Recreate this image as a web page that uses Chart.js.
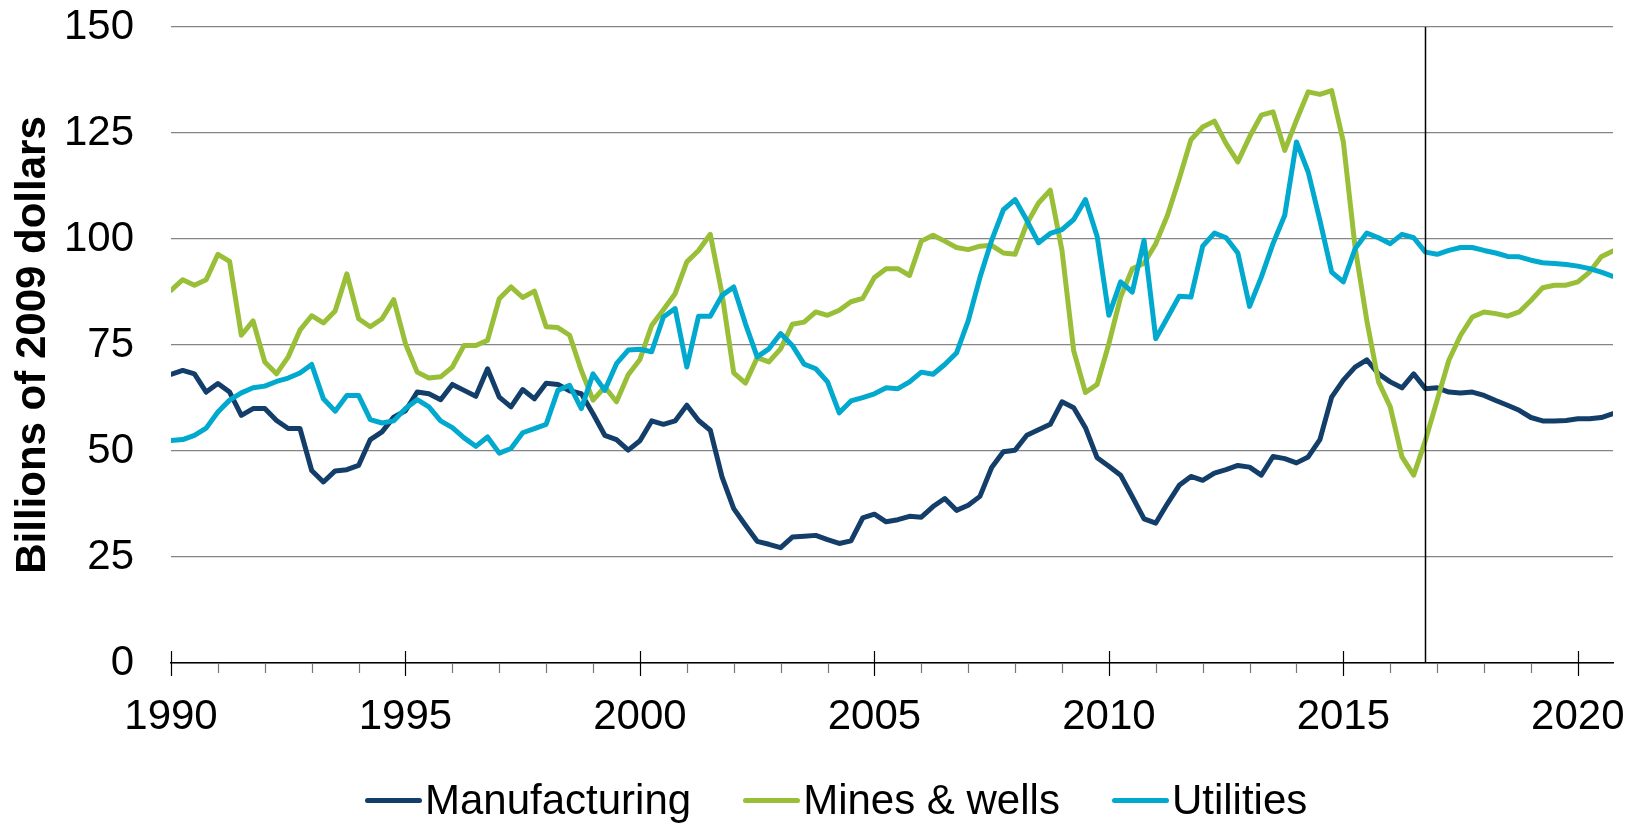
<!DOCTYPE html>
<html>
<head>
<meta charset="utf-8">
<title>Investment by sector</title>
<script src="https://cdn.jsdelivr.net/npm/chart.js@4.4.0/dist/chart.umd.min.js"></script>
<style>
  body { margin: 0; background: #fff; font-family: "Liberation Sans", Arial, sans-serif; }
  #wrap { position: relative; width: 1634px; height: 826px; }
  #legend { position: absolute; left: 365px; top: 776px; display: flex; align-items: center;
            font-size: 42px; line-height: 48px; color: #000; white-space: nowrap; }
  #legend .item { display: flex; align-items: center; margin-right: 52px; }
  #legend .swatch { width: 57px; height: 5px; border-radius: 2.5px; margin-right: 3px; }
</style>
</head>
<body>
<div id="wrap">
  <canvas id="chart" width="1634" height="826"></canvas>
  <div id="legend"></div>
</div>
<script>
// quarterly series, 1990Q1 .. 2020Q4, billions of 2009 dollars
const startYear = 1990;
const forecastStart = 2016.75;
const yTicks = [0, 25, 50, 75, 100, 125, 150];

const manufacturing = [
  68.1, 69.0, 68.2, 63.9, 65.9, 63.9, 58.4, 60.0, 60.0, 57.2,
  55.3, 55.3, 45.4, 42.7, 45.3, 45.6, 46.6, 52.7, 54.5, 58.0,
  59.5, 63.9, 63.5, 62.1, 65.7, 64.3, 62.9, 69.4, 62.7, 60.4,
  64.5, 62.3, 66.0, 65.7, 64.2, 63.5, 58.8, 53.7, 52.7, 50.2,
  52.4, 57.1, 56.3, 57.1, 60.8, 57.2, 54.9, 43.9, 36.4, 32.5,
  28.7, 28.0, 27.2, 29.7, 29.9, 30.1, 29.1, 28.2, 28.8, 34.2,
  35.1, 33.3, 33.8, 34.6, 34.4, 36.9, 38.8, 36.0, 37.2, 39.3,
  46.1, 49.8, 50.2, 53.7, 55.0, 56.3, 61.6, 60.2, 55.5, 48.4,
  46.4, 44.3, 39.2, 34.0, 33.0, 37.6, 41.9, 44.0, 43.1, 44.8,
  45.6, 46.6, 46.2, 44.3, 48.7, 48.2, 47.2, 48.6, 52.7, 62.7,
  66.7, 69.8, 71.5, 68.2, 66.3, 64.9, 68.2, 64.7, 64.9, 63.9,
  63.7, 63.9, 63.1, 61.9, 60.8, 59.6, 57.9, 57.1, 57.1, 57.2,
  57.6, 57.6, 57.9, 58.8
];
const minesWells = [
  87.9, 90.4, 89.1, 90.4, 96.4, 94.7, 77.3, 80.7, 71.0, 68.2,
  72.2, 78.5, 81.9, 80.2, 83.0, 91.8, 81.2, 79.3, 81.2, 85.7,
  75.3, 68.6, 67.2, 67.5, 69.8, 74.9, 74.9, 76.1, 85.9, 88.7,
  86.2, 87.7, 79.3, 79.1, 77.3, 69.0, 62.0, 65.1, 61.6, 68.0,
  71.6, 79.6, 83.3, 87.1, 94.6, 97.3, 101.1, 87.1, 68.4, 66.0,
  72.0, 71.0, 74.1, 79.9, 80.4, 82.8, 82.0, 83.2, 85.2, 86.0,
  90.9, 93.0, 93.0, 91.4, 99.5, 100.9, 99.5, 98.0, 97.5, 98.3,
  98.5, 96.7, 96.4, 103.6, 108.5, 111.5, 97.3, 73.6, 63.8, 65.7,
  75.3, 86.3, 93.0, 94.3, 98.9, 105.6, 114.2, 123.4, 126.4, 127.8,
  122.5, 118.2, 124.1, 129.2, 130.0, 120.9, 128.0, 134.7, 134.1, 135.0,
  122.9, 98.1, 80.8, 66.3, 60.4, 48.6, 44.3, 52.5, 62.0, 71.4,
  77.3, 81.6, 82.8, 82.4, 81.8, 82.8, 85.5, 88.5, 89.1, 89.1,
  89.9, 92.2, 95.8, 97.2
];
const utilities = [
  52.5, 52.7, 53.7, 55.4, 59.2, 62.0, 63.7, 64.9, 65.3, 66.4,
  67.2, 68.4, 70.4, 62.3, 59.4, 63.1, 63.1, 57.4, 56.6, 57.1,
  60.0, 62.1, 60.4, 57.1, 55.5, 53.1, 51.1, 53.3, 49.5, 50.6,
  54.3, 55.3, 56.3, 64.3, 65.5, 60.0, 68.2, 64.3, 70.6, 73.8,
  74.0, 73.4, 81.6, 83.6, 69.8, 81.8, 81.8, 86.7, 88.7, 80.0,
  72.2, 74.1, 77.7, 74.9, 70.5, 69.4, 66.3, 59.0, 61.8, 62.6,
  63.5, 64.9, 64.7, 66.3, 68.6, 68.1, 70.4, 73.1, 80.7, 90.9,
  99.7, 106.9, 109.3, 104.4, 99.1, 101.3, 102.2, 104.6, 109.3, 100.6,
  82.0, 89.9, 87.5, 99.7, 76.5, 81.5, 86.5, 86.3, 98.3, 101.4,
  100.3, 96.7, 84.1, 91.0, 98.9, 105.6, 122.9, 115.8, 104.4, 92.2,
  89.9, 97.7, 101.4, 100.3, 98.9, 101.1, 100.3, 96.9, 96.4, 97.3,
  98.0, 98.0, 97.3, 96.7, 95.9, 95.8, 95.0, 94.4, 94.2, 94.0,
  93.6, 93.0, 92.2, 91.2
];

const seriesNames = ['Manufacturing', 'Mines & wells', 'Utilities'];
const seriesColors = ['#133e69', '#99be37', '#00a9cd'];

const endYear = startYear + (manufacturing.length - 1) / 4;
const toPoints = arr => arr.map((v, i) => ({ x: startYear + i / 4, y: v }));

const FONT = '"Liberation Sans", Arial, sans-serif';

// year tick marks below the axis and the forecast divider
const axisMarks = {
  id: 'axisMarks',
  afterDraw(chart) {
    const { ctx, chartArea, scales: { x } } = chart;
    const bottom = chartArea.bottom;
    ctx.save();
    for (let yr = startYear; yr <= Math.floor(endYear); yr++) {
      const px = Math.round(x.getPixelForValue(yr)) + 0.5;
      const major = yr % 5 === 0;
      ctx.strokeStyle = major ? '#000' : '#777';
      ctx.lineWidth = 1.2;
      ctx.beginPath();
      ctx.moveTo(px, bottom - (major ? 12 : 0));
      ctx.lineTo(px, bottom + (major ? 13 : 10));
      ctx.stroke();
    }
    const fx = Math.round(x.getPixelForValue(forecastStart)) + 0.5;
    ctx.strokeStyle = '#000';
    ctx.lineWidth = 1.5;
    ctx.beginPath();
    ctx.moveTo(fx, chartArea.top);
    ctx.lineTo(fx, bottom);
    ctx.stroke();
    ctx.restore();
  }
};

const datasets = [manufacturing, minesWells, utilities].map((arr, k) => ({
  label: seriesNames[k],
  data: toPoints(arr),
  borderColor: seriesColors[k],
  backgroundColor: seriesColors[k],
  borderWidth: 5,
  borderJoinStyle: 'round',
  borderCapStyle: 'round',
  pointRadius: 0,
  tension: 0,
  order: 2 - k
}));

const chart = new Chart(document.getElementById('chart'), {
  type: 'line',
  data: { datasets: datasets },
  options: {
    responsive: false,
    animation: false,
    events: [],
    layout: { padding: { top: 27, right: 21, bottom: 0, left: 0 } },
    plugins: { legend: { display: false }, tooltip: { enabled: false } },
    scales: {
      x: {
        type: 'linear',
        min: startYear,
        max: endYear,
        grid: { display: false },
        border: { display: true, color: '#000', width: 1.5 },
        ticks: {
          stepSize: 5,
          includeBounds: false,
          maxRotation: 0,
          autoSkip: false,
          padding: 21,
          color: '#000',
          font: { family: FONT, size: 42 },
          callback: v => String(v)
        },
        afterFit(s) {
          s.height = 826 - 663;
          s.paddingLeft = 0;
          s.paddingRight = 0;
        }
      },
      y: {
        min: yTicks[0],
        max: yTicks[yTicks.length - 1],
        afterBuildTicks(s) { s.ticks = yTicks.map(v => ({ value: v })); },
        grid: { color: '#858585', lineWidth: 1.3, drawTicks: false },
        border: { display: false },
        ticks: {
          padding: 37,
          color: '#000',
          font: { family: FONT, size: 42 }
        },
        title: {
          display: true,
          text: 'Billions of 2009 dollars',
          color: '#000',
          font: { family: FONT, size: 42, weight: 'bold' },
          padding: { top: 8, bottom: 0 }
        },
        afterFit(s) {
          s.width = 171;
          s.paddingTop = 0;
          s.paddingBottom = 0;
        }
      }
    }
  },
  plugins: [axisMarks]
});

// legend under the plot, built from the datasets
const legend = document.getElementById('legend');
chart.data.datasets.forEach(ds => {
  const item = document.createElement('div');
  item.className = 'item';
  const sw = document.createElement('span');
  sw.className = 'swatch';
  sw.style.background = ds.borderColor;
  const txt = document.createElement('span');
  txt.textContent = ds.label;
  item.appendChild(sw);
  item.appendChild(txt);
  legend.appendChild(item);
});
</script>
</body>
</html>
